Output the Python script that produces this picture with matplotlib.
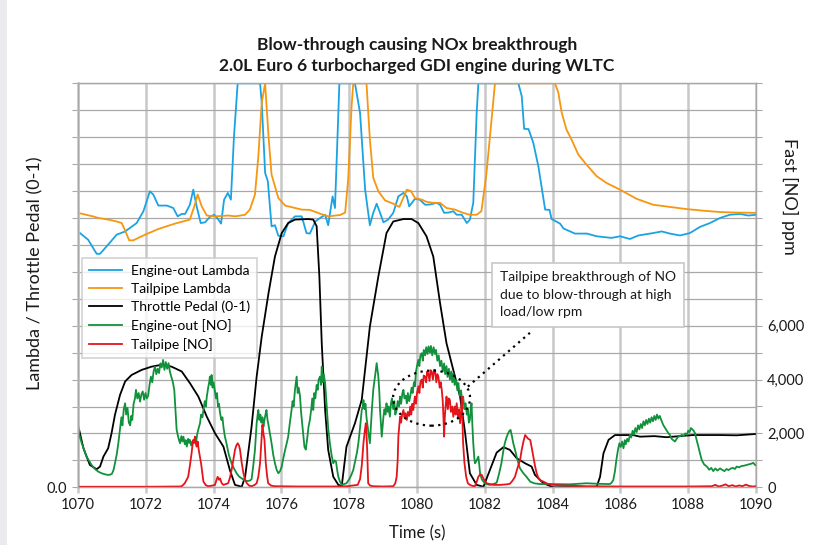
import matplotlib
matplotlib.use("Agg")
import matplotlib.pyplot as plt
from matplotlib.patches import Ellipse, Rectangle
from matplotlib.ticker import FuncFormatter

# Engine-out lambda (left axis)
eo_lam_t = [1070.0, 1070.30, 1070.55, 1070.65, 1070.89, 1071.14, 1071.39, 1071.73, 1071.93, 1072.12,
            1072.22, 1072.37, 1072.62, 1072.81, 1072.94, 1073.06, 1073.16, 1073.30, 1073.40, 1073.50,
            1073.62, 1073.75, 1073.89, 1074.02, 1074.14, 1074.22, 1074.31, 1074.42, 1074.51, 1074.60,
            1074.71, 1075.37, 1075.42, 1075.52, 1075.60, 1075.71, 1075.81, 1075.91, 1076.06, 1076.20,
            1076.40, 1076.60, 1076.74, 1076.84, 1077.0, 1077.14, 1077.29, 1077.38, 1077.51, 1077.58,
            1077.68, 1077.71, 1078.17, 1078.32, 1078.47, 1078.61, 1078.71, 1078.81, 1078.91, 1079.01,
            1079.15, 1079.30, 1079.45, 1079.60, 1079.70, 1079.77, 1079.94, 1080.08, 1080.24, 1080.38,
            1080.58, 1080.68, 1080.80, 1080.93, 1081.07, 1081.17, 1081.32, 1081.47, 1081.56, 1081.66,
            1081.76, 1081.81, 1082.99, 1083.09, 1083.16, 1083.29, 1083.43, 1083.58, 1083.78, 1083.91,
            1083.97, 1084.22, 1084.32, 1084.66, 1085.01, 1085.30, 1085.74, 1085.99, 1086.28, 1086.53,
            1086.97, 1087.22, 1087.46, 1087.76, 1088.05, 1088.35, 1088.64, 1088.94, 1089.23, 1089.53,
            1089.77, 1090.0]
eo_lam = [0.950, 0.919, 0.867, 0.867, 0.901, 0.938, 0.950, 0.981, 1.025, 1.099,
          1.087, 1.046, 1.046, 1.037, 1.006, 1.015, 1.015, 1.049, 1.105, 1.043,
          0.981, 0.984, 1.004, 1.012, 0.994, 0.979, 1.068, 1.093, 1.068, 1.30,
          1.5, 1.5, 1.428, 1.167, 1.136, 0.969, 0.973, 0.934, 0.932, 0.981,
          1.006, 1.006, 0.944, 0.942, 0.987, 1.0, 1.012, 0.973, 1.080, 1.037,
          1.39, 1.5, 1.5, 1.39, 1.105, 0.973, 1.019, 1.053, 1.019, 0.984,
          0.994, 1.019, 1.080, 1.093, 1.080, 1.043, 1.071, 1.068, 1.049, 1.050,
          1.056, 1.049, 1.019, 1.020, 1.025, 1.012, 1.012, 0.981, 0.994, 1.056,
          1.39, 1.5, 1.5, 1.452, 1.331, 1.330, 1.279, 1.192, 1.031, 1.030,
          0.996, 0.979, 0.961, 0.942, 0.942, 0.932, 0.926, 0.932, 0.922, 0.935,
          0.944, 0.950, 0.942, 0.935, 0.944, 0.967, 0.981, 1.0, 1.012, 1.015,
          1.009, 1.012]

# Tailpipe lambda (left axis)
tp_lam_t = [1070.0, 1070.30, 1070.44, 1070.60, 1070.89, 1071.14, 1071.29, 1071.38, 1071.51, 1071.63,
            1071.98, 1072.37, 1072.86, 1073.30, 1073.43, 1073.53, 1073.65, 1073.80, 1074.04, 1074.44,
            1074.64, 1074.93, 1075.07, 1075.22, 1075.32, 1075.42, 1075.52, 1075.62, 1075.71, 1075.91,
            1076.11, 1076.60, 1076.84, 1077.14, 1077.38, 1077.73, 1077.88, 1077.97, 1078.07, 1078.12,
            1078.51, 1078.61, 1078.71, 1078.86, 1079.06, 1079.30, 1079.48, 1079.70, 1079.82, 1079.94,
            1080.14, 1080.28, 1080.48, 1080.68, 1080.87, 1081.12, 1081.36, 1081.56, 1081.76, 1081.90,
            1082.05, 1082.20, 1082.30, 1084.07, 1084.17, 1084.27, 1084.41, 1084.56, 1084.76, 1085.00,
            1085.30, 1085.59, 1085.99, 1086.48, 1086.97, 1087.46, 1087.95, 1088.45, 1088.94, 1089.43,
            1090.0]
tp_lam = [1.019, 1.010, 1.006, 1.0, 0.994, 0.987, 0.981, 0.956, 0.917, 0.917,
          0.938, 0.959, 0.979, 0.994, 1.043, 1.087, 1.043, 1.009, 1.006, 1.009,
          1.006, 1.012, 1.031, 1.087, 1.229, 1.428, 1.5, 1.303, 1.161, 1.074,
          1.046, 1.031, 1.030, 1.016, 1.006, 1.011, 1.020, 1.142, 1.415, 1.5,
          1.5, 1.291, 1.149, 1.099, 1.065, 1.053, 1.041, 1.105, 1.100, 1.074,
          1.068, 1.060, 1.056, 1.056, 1.037, 1.031, 1.019, 1.012, 1.012, 1.025,
          1.167, 1.366, 1.5, 1.5, 1.465, 1.39, 1.328, 1.291, 1.235, 1.198,
          1.155, 1.130, 1.105, 1.071, 1.049, 1.041, 1.033, 1.027, 1.022, 1.020,
          1.019]

# Throttle pedal 0-1 (left axis)
pedal_t = [1070.0, 1070.16, 1070.35, 1070.55, 1070.65, 1070.75, 1070.89, 1070.99, 1071.09, 1071.24,
           1071.39, 1071.58, 1071.88, 1072.17, 1072.47, 1072.76, 1073.06, 1073.30, 1073.55, 1073.80,
           1074.04, 1074.29, 1074.48, 1074.63, 1074.83, 1074.93, 1075.12, 1075.27, 1075.42, 1075.62,
           1075.81, 1076.01, 1076.20, 1076.40, 1076.79, 1076.94, 1077.04, 1077.12, 1077.19, 1077.29,
           1077.38, 1077.53, 1077.68, 1077.78, 1077.92, 1078.17, 1078.37, 1078.61, 1078.86, 1079.10,
           1079.30, 1079.60, 1079.84, 1080.04, 1080.28, 1080.48, 1080.68, 1080.87, 1081.07, 1081.27,
           1081.42, 1081.56, 1081.76, 1081.96, 1082.15, 1082.35, 1082.55, 1082.74, 1082.94, 1083.19,
           1083.38, 1083.48, 1083.73, 1084.02, 1085.30, 1085.40, 1085.50, 1085.65, 1085.84, 1086.37,
           1086.58, 1087.0, 1087.36, 1087.75, 1088.14, 1088.94, 1089.43, 1090.0]
pedal = [0.232, 0.145, 0.083, 0.067, 0.077, 0.114, 0.145, 0.201, 0.269, 0.343,
         0.393, 0.417, 0.436, 0.448, 0.455, 0.448, 0.430, 0.387, 0.337, 0.262,
         0.201, 0.151, 0.064, 0.009, 0.002, 0.039, 0.225, 0.411, 0.560, 0.721,
         0.857, 0.944, 0.981, 0.994, 0.996, 0.994, 0.969, 0.783, 0.535, 0.287,
         0.139, 0.039, 0.009, 0.005, 0.151, 0.238, 0.325, 0.597, 0.783, 0.944,
         0.987, 0.996, 0.996, 0.981, 0.932, 0.857, 0.684, 0.535, 0.436, 0.337,
         0.201, 0.052, 0.009, 0.002, 0.064, 0.129, 0.149, 0.139, 0.108, 0.089,
         0.077, 0.046, 0.015, 0.0, 0.002, 0.039, 0.126, 0.176, 0.194, 0.194,
         0.188, 0.190, 0.186, 0.190, 0.194, 0.194, 0.193, 0.198]

# Engine-out [NO] ppm (right axis)
eo_no_t = [1070.0, 1070.05, 1070.11, 1070.18, 1070.25, 1070.32, 1070.40, 1070.50, 1070.60, 1070.70,
           1070.80, 1070.89, 1070.95, 1071.0, 1071.05, 1071.09, 1071.14, 1071.19, 1071.24, 1071.28,
           1071.31, 1071.35, 1071.39, 1071.42, 1071.46, 1071.50, 1071.54, 1071.57, 1071.60, 1071.64,
           1071.68, 1071.71, 1071.75, 1071.79, 1071.83, 1071.87, 1071.91, 1071.95, 1071.99, 1072.03,
           1072.07, 1072.11, 1072.15, 1072.19, 1072.23, 1072.27, 1072.31, 1072.35, 1072.39, 1072.43,
           1072.47, 1072.51, 1072.55, 1072.59, 1072.63, 1072.67, 1072.71, 1072.75, 1072.79, 1072.84,
           1072.88, 1072.91, 1072.95, 1072.98, 1073.01, 1073.05, 1073.08, 1073.11, 1073.15, 1073.18,
           1073.21, 1073.25, 1073.28, 1073.30, 1073.34, 1073.37, 1073.40, 1073.44, 1073.48, 1073.52,
           1073.56, 1073.60, 1073.63, 1073.67, 1073.70, 1073.74, 1073.77, 1073.80, 1073.84, 1073.87,
           1073.89, 1073.92, 1073.94, 1073.97, 1074.00, 1074.04, 1074.07, 1074.10, 1074.13, 1074.16,
           1074.19, 1074.23, 1074.26, 1074.29, 1074.33, 1074.38, 1074.45, 1074.53, 1074.60, 1074.68,
           1074.75, 1074.83, 1074.90, 1074.98, 1075.07, 1075.12, 1075.17, 1075.22, 1075.25, 1075.27,
           1075.30, 1075.32, 1075.35, 1075.38, 1075.41, 1075.44, 1075.47, 1075.50, 1075.53, 1075.56,
           1075.59, 1075.61, 1075.66, 1075.71, 1075.76, 1075.81, 1075.86, 1075.91, 1075.96, 1076.01,
           1076.06, 1076.11, 1076.16, 1076.20, 1076.25, 1076.30, 1076.33, 1076.36, 1076.40, 1076.43,
           1076.45, 1076.48, 1076.51, 1076.55, 1076.58, 1076.61, 1076.65, 1076.68, 1076.72, 1076.76,
           1076.80, 1076.84, 1076.88, 1076.91, 1076.94, 1076.97, 1077.00, 1077.04, 1077.07, 1077.10,
           1077.14, 1077.17, 1077.19, 1077.22, 1077.25, 1077.29, 1077.32, 1077.34, 1077.38, 1077.43,
           1077.48, 1077.53, 1077.57, 1077.61, 1077.65, 1077.68, 1077.73, 1077.78, 1077.85, 1077.92,
           1078.00, 1078.06, 1078.12, 1078.18, 1078.23, 1078.27, 1078.31, 1078.34, 1078.37, 1078.40,
           1078.42, 1078.45, 1078.48, 1078.51, 1078.54, 1078.57, 1078.61, 1078.64, 1078.67, 1078.71,
           1078.74, 1078.78, 1078.81, 1078.84, 1078.86, 1078.89, 1078.91, 1078.94, 1078.96, 1078.99,
           1079.01, 1079.04, 1079.07, 1079.10, 1079.13, 1079.16, 1079.20, 1079.23, 1079.26, 1079.30,
           1079.33, 1079.36, 1079.40, 1079.43, 1079.47, 1079.50, 1079.53, 1079.57, 1079.60, 1079.63,
           1079.67, 1079.70, 1079.73, 1079.77, 1079.80, 1079.84, 1079.87, 1079.91, 1079.94, 1079.97,
           1080.00, 1080.04, 1080.07, 1080.10, 1080.14, 1080.17, 1080.20, 1080.24, 1080.27, 1080.31,
           1080.34, 1080.38, 1080.41, 1080.45, 1080.49, 1080.53, 1080.56, 1080.60, 1080.64, 1080.68,
           1080.72, 1080.76, 1080.80, 1080.83, 1080.87, 1080.90, 1080.94, 1080.97, 1081.01, 1081.04,
           1081.07, 1081.11, 1081.15, 1081.19, 1081.22, 1081.26, 1081.30, 1081.33, 1081.36, 1081.40,
           1081.43, 1081.47, 1081.50, 1081.53, 1081.56, 1081.59, 1081.61, 1081.63, 1081.66, 1081.69,
           1081.71, 1081.76, 1081.81, 1081.84, 1081.86, 1081.91, 1081.96, 1082.05, 1082.15, 1082.25,
           1082.35, 1082.42, 1082.49, 1082.54, 1082.59, 1082.64, 1082.69, 1082.73, 1082.76, 1082.80,
           1082.84, 1082.89, 1082.94, 1083.00, 1083.04, 1083.14, 1083.23, 1083.34, 1083.45, 1083.63,
           1084.0, 1084.5, 1085.0, 1085.35, 1085.69, 1085.74, 1085.79, 1085.84, 1085.88, 1085.93,
           1085.97, 1086.01, 1086.05, 1086.09, 1086.13, 1086.16, 1086.20, 1086.24, 1086.28, 1086.32,
           1086.36, 1086.40, 1086.44, 1086.48, 1086.52, 1086.56, 1086.60, 1086.64, 1086.68, 1086.72,
           1086.76, 1086.80, 1086.84, 1086.88, 1086.92, 1086.96, 1087.00, 1087.04, 1087.08, 1087.12,
           1087.16, 1087.22, 1087.27, 1087.32, 1087.37, 1087.42, 1087.46, 1087.51, 1087.56, 1087.61,
           1087.66, 1087.71, 1087.76, 1087.81, 1087.86, 1087.91, 1087.96, 1088.00, 1088.04, 1088.08,
           1088.12, 1088.16, 1088.20, 1088.25, 1088.30, 1088.35, 1088.40, 1088.47, 1088.55, 1088.62,
           1088.68, 1088.74, 1088.80, 1088.86, 1088.94, 1089.00, 1089.07, 1089.13, 1089.19, 1089.26,
           1089.32, 1089.38, 1089.43, 1089.50, 1089.57, 1089.64, 1089.73, 1089.80, 1089.87, 1089.92,
           1089.97, 1090.0]
eo_no = [2190, 1900, 1635, 1400, 1140, 1000, 830, 680, 580, 520,
         480, 460, 470, 500, 650, 890, 1200, 1635, 2190, 2600,
         2300, 2900, 3120, 2700, 2950, 2400, 2300, 2650, 2500, 3100,
         3300, 3620, 3300, 3500, 3180, 3450, 3560, 3250, 3500, 3300,
         3400, 3800, 4110, 3900, 4300, 4480, 4200, 4400, 4240, 4600,
         4450, 4730, 4360, 4650, 4400, 4610, 4300, 4110, 3950, 3620,
         2750, 2130, 1900, 1750, 1635, 1900, 1700, 1880, 1600, 1750,
         1510, 1800, 1650, 1760, 1550, 1700, 1635, 1800, 1650, 2000,
         2200, 2380, 2700, 2600, 2870, 3200, 3000, 3370, 3700, 3900,
         4110, 3800, 4170, 3700, 3900, 3560, 3300, 3500, 3000, 3100,
         2750, 2500, 2600, 2250, 1900, 1635, 1200, 890, 700, 520,
         400, 330, 270, 230, 250, 300, 800, 1390, 2000, 2380,
         2700, 2870, 2500, 2700, 2400, 2600, 2250, 2500, 2700, 2870,
         2500, 2380, 2000, 1635, 1200, 890, 650, 520, 600, 770,
         1100, 1390, 1650, 1880, 2400, 2870, 3200, 3000, 3620, 3900,
         4110, 3500, 3700, 3370, 2800, 2400, 1880, 1500, 1400, 1800,
         2250, 2500, 2900, 3300, 2870, 3500, 3300, 3800, 3620, 4000,
         4110, 3800, 4480, 3900, 4200, 3870, 3300, 2870, 2200, 1635,
         1200, 890, 1000, 960, 600, 390, 200, 90, 120, 150,
         300, 450, 640, 1000, 1300, 1635, 2100, 2500, 2870, 3000,
         3240, 2900, 3100, 2600, 2300, 2000, 1635, 2300, 2900, 3620,
         3900, 4300, 4610, 4300, 4110, 3500, 2870, 2300, 1880, 2300,
         2620, 2900, 2700, 3120, 2800, 3000, 2620, 3100, 3300, 2900,
         3200, 2700, 2870, 3200, 3000, 3370, 3100, 3500, 3620, 3300,
         3400, 3120, 3500, 3200, 3370, 3700, 3500, 3900, 3750, 4300,
         4500, 4730, 4500, 4900, 4980, 4700, 5100, 4900, 5200, 4950,
         5230, 5000, 5250, 4900, 5200, 4950, 5100, 4700, 4900, 4500,
         4700, 4300, 4600, 4200, 4500, 4100, 4400, 4000, 4300, 3900,
         4240, 3800, 4000, 3600, 3870, 3400, 3600, 3200, 3370, 2900,
         3120, 2700, 2900, 2400, 2500, 3000, 3120, 2400, 1635, 1100,
         890, 1000, 1140, 800, 520, 300, 210, 120, 90, 120,
         170, 500, 890, 1300, 1635, 1850, 2010, 2100, 2130, 1900,
         1635, 1400, 1140, 850, 700, 520, 390, 210, 150, 120,
         120, 110, 150, 130, 120, 170, 270, 600, 1010, 1400,
         1635, 1500, 1700, 1450, 1750, 1600, 1800, 1700, 1950, 1850,
         2100, 1950, 2200, 2050, 2300, 2150, 2350, 2200, 2450, 2300,
         2500, 2350, 2550, 2400, 2600, 2450, 2650, 2500, 2700, 2550,
         2650, 2450, 2300, 2200, 2100, 2000, 1950, 1800, 1750, 1700,
         1800, 1880, 1900, 1950, 1900, 2000, 1950, 2100, 2050, 2200,
         2150, 2100, 2010, 1750, 1510, 1250, 1010, 850, 770, 650,
         720, 600, 700, 620, 700, 650, 600, 680, 640, 700,
         720, 680, 770, 740, 790, 800, 830, 850, 880, 910,
         830, 820]

# Tailpipe [NO] ppm (right axis)
tp_no_t = [1070.0, 1071.0, 1072.0, 1073.0, 1073.06, 1073.15, 1073.25, 1073.30, 1073.35, 1073.38,
           1073.40, 1073.43, 1073.45, 1073.48, 1073.50, 1073.53, 1073.56, 1073.60, 1073.63, 1073.67,
           1073.70, 1073.77, 1073.84, 1073.95, 1074.04, 1074.08, 1074.12, 1074.16, 1074.19, 1074.24,
           1074.29, 1074.36, 1074.43, 1074.48, 1074.53, 1074.58, 1074.63, 1074.67, 1074.71, 1074.75,
           1074.78, 1074.83, 1074.88, 1074.93, 1074.98, 1075.05, 1075.12, 1075.20, 1075.27, 1075.32,
           1075.37, 1075.41, 1075.44, 1075.47, 1075.50, 1075.52, 1075.54, 1075.58, 1075.61, 1075.70,
           1075.81, 1076.5, 1077.0, 1077.5, 1077.95, 1078.25, 1078.32, 1078.37, 1078.42, 1078.46,
           1078.49, 1078.51, 1078.53, 1078.55, 1078.56, 1078.62, 1078.71, 1079.0, 1079.30, 1079.36,
           1079.40, 1079.43, 1079.45, 1079.48, 1079.50, 1079.53, 1079.56, 1079.60, 1079.63, 1079.66,
           1079.70, 1079.73, 1079.77, 1079.80, 1079.83, 1079.86, 1079.89, 1079.92, 1079.94, 1079.97,
           1080.00, 1080.04, 1080.07, 1080.10, 1080.14, 1080.17, 1080.20, 1080.24, 1080.27, 1080.30,
           1080.33, 1080.37, 1080.40, 1080.43, 1080.47, 1080.50, 1080.53, 1080.57, 1080.60, 1080.63,
           1080.67, 1080.70, 1080.73, 1080.76, 1080.78, 1080.80, 1080.82, 1080.85, 1080.87, 1080.91,
           1080.94, 1080.97, 1081.00, 1081.04, 1081.07, 1081.11, 1081.14, 1081.17, 1081.21, 1081.24,
           1081.27, 1081.30, 1081.32, 1081.34, 1081.36, 1081.40, 1081.45, 1081.50, 1081.56, 1081.64,
           1081.71, 1081.76, 1081.81, 1081.86, 1081.91, 1081.96, 1082.05, 1082.25, 1082.45, 1082.65,
           1082.74, 1082.82, 1082.89, 1082.96, 1083.04, 1083.09, 1083.14, 1083.19, 1083.23, 1083.28,
           1083.34, 1083.38, 1083.43, 1083.48, 1083.53, 1083.58, 1083.65, 1083.73, 1083.85, 1084.02,
           1084.5, 1085.0, 1086.0, 1087.0, 1088.0, 1088.7, 1088.8, 1088.9, 1089.0, 1089.1,
           1089.2, 1089.3, 1089.4, 1089.5, 1089.6, 1089.7, 1089.8, 1089.9, 1090.0]
tp_no = [20, 20, 20, 30, 40, 150, 390, 800, 1260, 1600,
         1760, 1650, 1880, 1600, 1510, 1700, 1400, 1100, 890, 500,
         210, 80, 40, 60, 90, 250, 390, 280, 330, 150,
         90, 120, 150, 350, 640, 1000, 1390, 1550, 1635, 1550,
         1390, 900, 520, 280, 150, 60, 40, 80, 150, 400,
         890, 1700, 2320, 2000, 1760, 1300, 890, 400, 150, 60,
         40, 30, 30, 30, 40, 90, 300, 800, 1635, 2100,
         2380, 2000, 1390, 600, 150, 60, 40, 30, 40, 150,
         390, 1000, 1880, 2300, 2620, 2400, 2700, 2870, 2600, 2750,
         2500, 2800, 2650, 3000, 2700, 3100, 2870, 3200, 3370, 3100,
         3500, 3750, 3500, 3900, 4000, 3700, 4150, 4110, 3900, 4300,
         4240, 3950, 4350, 4300, 4000, 4360, 4360, 3900, 4200, 4110,
         3700, 3900, 3620, 3200, 2600, 1880, 2600, 3100, 3370, 2900,
         3300, 3240, 2800, 3000, 2620, 3000, 2700, 3120, 2600, 2900,
         2380, 2800, 3370, 2500, 1635, 900, 390, 150, 90, 50,
         40, 200, 390, 480, 460, 320, 150, 90, 90, 110,
         130, 250, 390, 700, 1010, 1400, 1700, 1940, 1880, 1800,
         1760, 1500, 1140, 800, 520, 350, 250, 210, 130, 90,
         60, 40, 30, 30, 30, 40, 90, 30, 60, 110,
         40, 80, 30, 70, 40, 100, 50, 30, 40]

legend_labels = ["Engine-out Lambda", "Tailpipe Lambda", "Throttle Pedal (0-1)",
                 "Engine-out [NO]", "Tailpipe [NO]"]
colors = ["#1aa3e3", "#f7960f", "#000000", "#12913c", "#e5141b"]

plt.rcParams["font.family"] = ["Lato", "DejaVu Sans"]
fig = plt.figure(figsize=(8.13, 5.45), dpi=100)
fig.patches.append(Rectangle((0, 0), 7 / 813, 1, transform=fig.transFigure,
                             facecolor="#ebebed", edgecolor="none"))
ax = fig.add_axes([78 / 813, 57.7 / 545, 678 / 813, 404 / 545])
ax2 = ax.twinx()

grid_c = "#a8a8a8"
text_c = "#1a1a1a"
l1, = ax.plot(eo_lam_t, eo_lam, color=colors[0], lw=1.3)
l2, = ax.plot(tp_lam_t, tp_lam, color=colors[1], lw=1.3)
l3, = ax.plot(pedal_t, pedal, color=colors[2], lw=1.3)
l4, = ax2.plot(eo_no_t, eo_no, color=colors[3], lw=1.3)
l5, = ax2.plot(tp_no_t, tp_no, color=colors[4], lw=1.3)

ax.set_xlim(1070, 1090)
ax.set_ylim(0, 1.5)
ax2.set_ylim(0, 15000)
ax.set_xticks(range(1070, 1091, 2))
ax.set_yticks([i / 10 for i in range(16)])
ax.yaxis.set_major_formatter(FuncFormatter(lambda v, p: "0.0" if v == 0 else ""))
ax2.set_yticks(range(0, 15001, 1000))
ax2.yaxis.set_major_formatter(
    FuncFormatter(lambda v, p: f"{int(v):,}" if v <= 6000 and int(v) % 2000 == 0 else ""))

ax.grid(axis="y", color=grid_c, lw=0.9)
ax.grid(axis="x", color="#c8c8c8", lw=1.8)
ax.set_axisbelow(True)
for a in (ax, ax2):
    for s in a.spines.values():
        s.set_color(grid_c)
        s.set_linewidth(0.9)
    a.tick_params(axis="y", length=4, color=grid_c, labelsize=10.5, labelcolor=text_c, pad=4)
ax.tick_params(axis="x", length=4, color="#c8c8c8", width=1.8, labelsize=10.5,
               labelcolor=text_c, pad=4)
ax.spines["left"].set_linewidth(1.8)
ax.spines["left"].set_color("#c8c8c8")

ax.set_xlabel("Time (s)", fontsize=12, labelpad=9, color=text_c)
ax.set_ylabel("Lambda / Throttle Pedal (0-1)", fontsize=13, color=text_c)
ax2.set_ylabel("Fast [NO] ppm", fontsize=13, rotation=-90, color=text_c)
ax.yaxis.set_label_coords(-0.051, 0.53)
ax2.yaxis.set_label_coords(1.062, 0.72)
fig.suptitle("Blow-through causing NOx breakthrough\n2.0L Euro 6 turbocharged GDI engine during WLTC",
             x=417 / 813, y=1 - 37 / 545, fontsize=12.5, fontweight="bold",
             color=text_c, linespacing=1.35)

leg = ax.legend([l1, l2, l3, l4, l5], legend_labels, loc="upper left",
                bbox_to_anchor=(4 / 678, (487.3 - 258) / 404), borderaxespad=0,
                fontsize=10, frameon=True, fancybox=False, edgecolor="#c8c8c8",
                handlelength=2.4, borderpad=0.5, labelspacing=0.42, handletextpad=0.6)
leg.get_frame().set_linewidth(1.2)
leg.set_zorder(20)

# annotation: dotted ellipse, connector and text box
ax2.add_patch(Ellipse((1080.43, 3310), 2.27, 2045, fill=False, ls=(0, (1, 2)),
                      lw=1.6, ec="black", zorder=10))
ax2.plot([1081.5, 1083.33], [3740, 5735], color="black", ls=(0, (1, 2)), lw=1.6, zorder=10)
ax2.text(1082.45, 7150, "Tailpipe breakthrough of NO\ndue to blow-through at high\nload/low rpm",
         fontsize=10, va="center", ha="left", color=text_c, linespacing=1.55, zorder=11,
         bbox=dict(boxstyle="square,pad=0.6", fc="white", ec="#c8c8c8", lw=1.2))

fig.savefig("out.png", dpi=100)
